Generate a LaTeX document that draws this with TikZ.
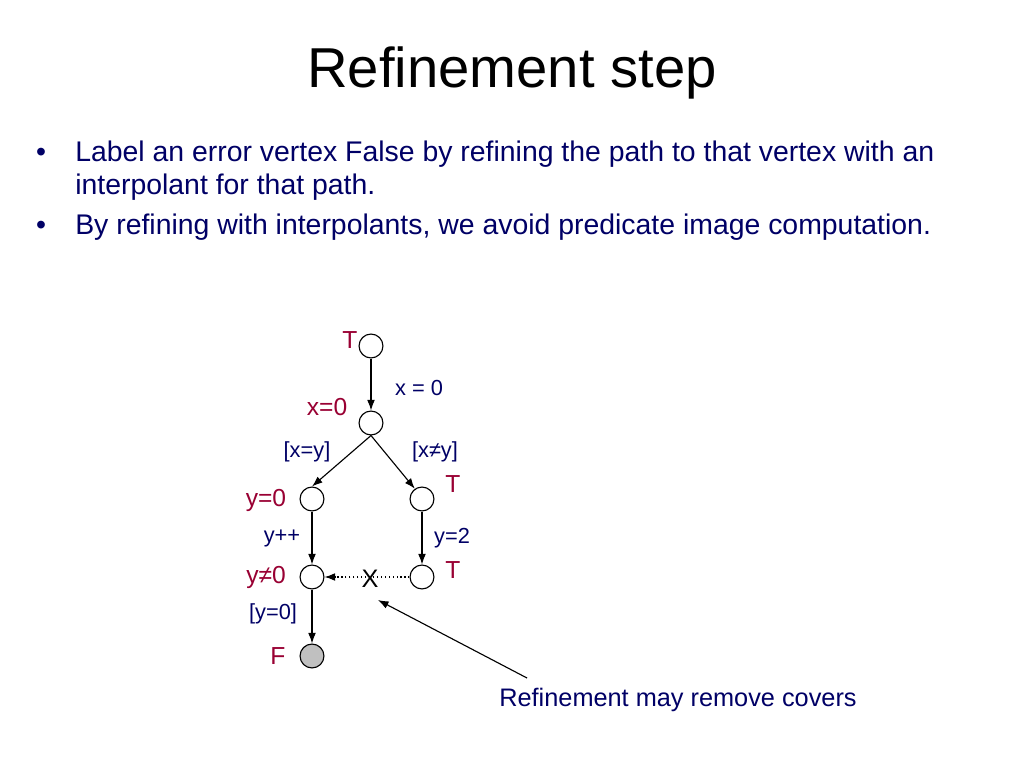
\documentclass[tikz,border=0pt]{standalone}
\usepackage{fontspec}
\setmainfont{Liberation Sans}
\usetikzlibrary{arrows.meta, positioning}
\definecolor{DeepNavy}{HTML}{000066}
\definecolor{Wine}{HTML}{990033}
\definecolor{NodeGray}{HTML}{C0C0C0}
\tikzset{
    vertex/.style={circle, draw=black, line width=0.8pt, minimum size=17pt, inner sep=0pt},
    edge/.style={-{Latex[length=7.5pt,width=5.5pt]}, line width=0.8pt},
    guard/.style={font=\fontsize{15.5}{18}\selectfont, text=DeepNavy},
    region/.style={font=\fontsize{17.5}{20}\selectfont, text=Wine}
}
\begin{document}
\begin{tikzpicture}[x=0.025cm, y=-0.025cm]
    \useasboundingbox[fill=white] (0,0) rectangle (1024,768);

    % Title
    \node[font=\fontsize{40}{48}\selectfont, anchor=base] (title) at (512, 88) {Refinement step};

    % Bullets
    \node[font=\fontsize{20.2}{24}\selectfont, text=DeepNavy, anchor=base] (dot1) at (41, 161) {\textbullet};
    \node[font=\fontsize{20.2}{24}\selectfont, text=DeepNavy, anchor=base west, inner sep=0pt] (line1) at (75, 161) {Label an error vertex False by refining the path to that vertex with an};
    \node[font=\fontsize{20.2}{24}\selectfont, text=DeepNavy, anchor=base west, inner sep=0pt] (line2) at (75, 194) {interpolant for that path.};
    \node[font=\fontsize{20.2}{24}\selectfont, text=DeepNavy, anchor=base] (dot2) at (41, 234) {\textbullet};
    \node[font=\fontsize{20.2}{24}\selectfont, text=DeepNavy, anchor=base west, inner sep=0pt] (line3) at (75, 234) {By refining with interpolants, we avoid predicate image computation.};

    % Vertices
    \node[vertex] (root) at (371, 346) {};
    \node[vertex] (mid) at (371, 423) {};
    \node[vertex] (left) at (312, 499) {};
    \node[vertex] (right) at (422, 499) {};
    \node[vertex] (leftlow) at (312, 577) {};
    \node[vertex] (rightlow) at (422, 577) {};
    \node[vertex, fill=NodeGray] (err) at (312, 656) {};

    % Edges
    \draw[edge] (root) -- (mid);
    \draw[edge] (mid.south) -- (left.north);
    \draw[edge] (mid.south) -- (right.125);
    \draw[edge] (left) -- (leftlow);
    \draw[edge] (right) -- (rightlow);
    \draw[edge] (leftlow) -- (err);

    % Removed cover
    \draw[edge, dotted] (rightlow) -- (leftlow);
    \node[font=\fontsize{18}{20}\selectfont, inner sep=1pt] (cross) at (370, 579) {X};

    % Edge labels
    \node[guard] (lx) at (419, 388) {x = 0};
    \node[guard] (lxy) at (307, 452) {[x=y]};
    \node[guard] (lnxy) at (435, 452) {[x≠y]};
    \node[guard] (linc) at (282, 538) {y++};
    \node[guard] (ltwo) at (452, 538) {y=2};
    \node[guard] (lguard) at (273, 614) {[y=0]};

    % Vertex labels
    \node[region] (troot) at (350, 340) {T};
    \node[region] (tmid) at (327, 407) {x=0};
    \node[region] (tleft) at (266, 500) {y=0};
    \node[region] (tright) at (453, 484) {T};
    \node[region] (tleftlow) at (266, 577) {y≠0};
    \node[region] (trightlow) at (453, 570) {T};
    \node[region] (terr) at (278, 656) {F};

    % Note
    \node[font=\fontsize{18}{21}\selectfont, text=DeepNavy] (note) at (678, 700) {Refinement may remove covers};
    \coordinate (tail) at (527, 678);
    \coordinate (head) at (378, 600);
    \draw[edge] (tail) -- (head);
\end{tikzpicture}
\end{document}
